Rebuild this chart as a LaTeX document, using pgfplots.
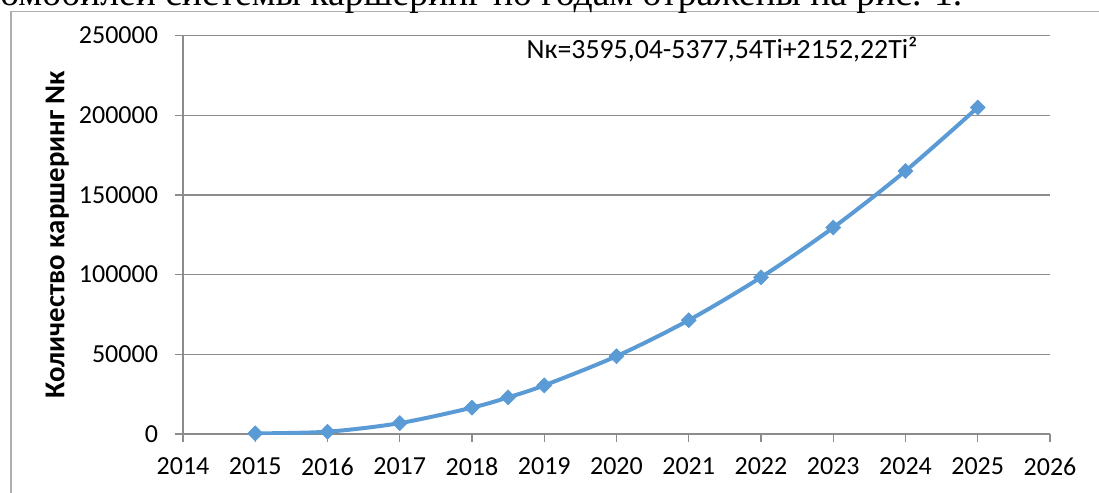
\documentclass[border=0pt]{standalone}
\usepackage{pgfplots}
\pgfplotsset{compat=1.18}
\usepackage{fontspec}
\setmainfont{Carlito}
\newfontfamily\serif{Liberation Serif}
\definecolor{ser}{HTML}{5B9BD5}
\definecolor{grd}{HTML}{8C8C8C}
\definecolor{frm}{HTML}{ADADAD}

\begin{document}
\begin{tikzpicture}
\begin{axis}[
 at={(0,0)}, anchor=south west,
 scale only axis, width=433.5pt, height=199.25pt,
 xmin=2014, xmax=2026, ymin=0, ymax=250000,
 xtick={2014,2015,...,2026}, ytick={0,50000,...,250000},
 axis lines*=left,
 axis line style={grd, line width=0.6pt},
 tick style={grd, line width=0.6pt},
 tick align=outside, major tick length=4pt,
 ymajorgrids, grid style={grd, line width=0.6pt},
 scaled y ticks=false,
 /pgf/number format/fixed,
 /pgf/number format/precision=0,
 /pgf/number format/1000 sep={},
 /pgf/number format/assume math mode=true,
 tick label style={font=\fontsize{13pt}{15pt}\selectfont, black},
 yticklabel style={xshift=-5pt},
 xticklabel style={yshift=-4.5pt},
 ylabel={Количество каршеринг Nк},
 ylabel style={at={(axis description cs:-0.145,0.5)}, anchor=center, rotate=0, font=\bfseries\fontsize{14.4pt}{16pt}\selectfont},
]
\addplot[ser, line width=2pt, smooth, tension=0.5, mark=square*, mark size=2.65pt, mark options={fill=ser, draw=ser, line width=0.3pt, rotate=45}]
 coordinates {
 (2015,370) (2016,1450) (2017,6830) (2018,16520) (2018.5,22980) (2019,30510)
 (2020,48810) (2021,71410) (2022,98320) (2023,129530) (2024,165040) (2025,204860)
 };
\node[anchor=west, font=\fontsize{13.9pt}{16pt}\selectfont] at (axis cs:2018.66,240900) {Nк=3595,04-5377,54Ti+2152,22Ti²};
\end{axis}
\draw[frm, line width=0.8pt] (-86pt,-40pt) -- (-86pt,211.25pt) -- (470pt,211.25pt);
\node[anchor=base west, inner sep=0pt, font=\serif\fontsize{18.8pt}{20pt}\selectfont] at (-91.5pt,214pt) {омобилей системы каршеринг по годам отражены на рис. 1.};
\pgfresetboundingbox
\path[use as bounding box] (-91.5pt,-29.5pt) rectangle (458pt,217pt);
\end{tikzpicture}
\end{document}
